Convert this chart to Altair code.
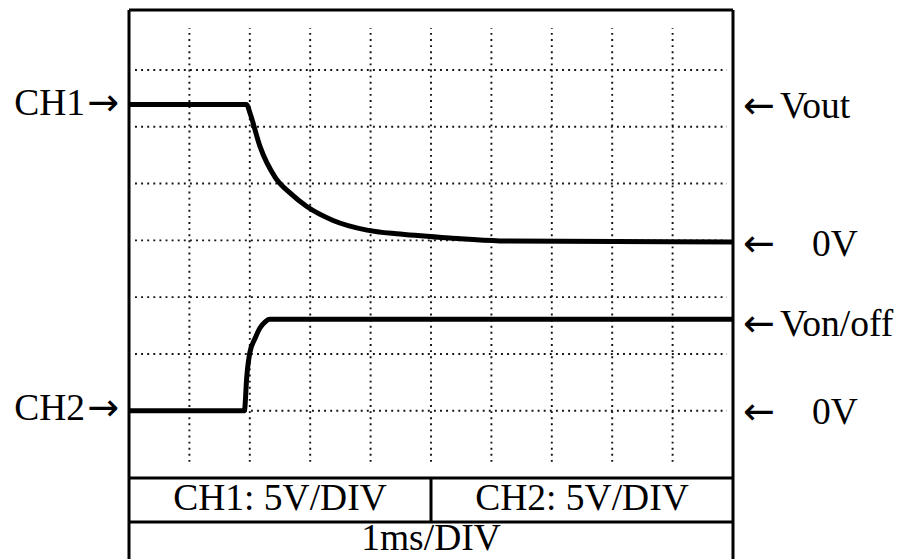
import altair as alt
import pandas as pd

# ---- trace data (time in ms, voltage in V) ----
ch1_t = [0, 1.95, 2.0, 2.17, 2.42, 2.67, 2.95, 3.38, 3.94, 4.49, 5.31, 6.14, 10]
ch1_v = [12.1, 12.1, 11.4, 8.4, 5.7, 4.3, 3.1, 1.9, 1.05, 0.7, 0.35, 0.1, 0]

ch2_t = [0, 1.91, 1.95, 2.0, 2.09, 2.17, 2.25, 2.33, 10]
ch2_v = [0, 0, 3.0, 5.1, 6.4, 7.3, 7.8, 8.05, 8.05]

VOLTS_PER_DIV = 5
ch1_zero_div = 3.97   # screen division where CH1 0V sits
ch2_zero_div = 1.0    # screen division where CH2 0V sits

# graticule
time_divs = [1, 2, 3, 4, 5, 6, 7, 8, 9]
volt_divs = [1, 2, 3, 4, 5, 6, 7]

# labels
left_labels = ["CH1", "CH2"]
left_label_y = [6.40, 1.03]
right_labels = ["Vout", "0V", "Von/off", "0V"]
right_label_y = [6.34, 3.92, 2.51, 0.96]
right_label_px = [651, 683, 651, 683]   # left edge of each label, px from plot's left

table_texts = ["CH1: 5V/DIV", "CH2: 5V/DIV", "1ms/DIV"]
table_text_x = [2.5, 7.5, 5.0]
table_text_y = [-0.555, -0.555, -1.26]

# screen frame (x, x2, y, y2) in (ms, divisions)
TOP = 8.055
BOTTOM = -1.61
ROW1 = -0.185
ROW2 = -0.96
frame = pd.DataFrame({
    "x":  [0, 0, 10, 0, 0, 5],
    "x2": [10, 0, 10, 10, 10, 5],
    "y":  [TOP, TOP, TOP, ROW1, ROW2, ROW1],
    "y2": [TOP, BOTTOM, BOTTOM, ROW1, ROW2, ROW2],
})

traces = pd.concat([
    pd.DataFrame({"t": ch1_t, "V": ch1_v, "ch": "CH1",
                  "y": [ch1_zero_div + v / VOLTS_PER_DIV for v in ch1_v]}),
    pd.DataFrame({"t": ch2_t, "V": ch2_v, "ch": "CH2",
                  "y": [ch2_zero_div + v / VOLTS_PER_DIV for v in ch2_v]}),
])

xs = alt.Scale(domain=[0, 10], nice=False, zero=False)
ys = alt.Scale(domain=[BOTTOM, TOP], nice=False, zero=False)

FONT = "Liberation Serif"
ARROW_FONT = "DejaVu Sans"
FS = 37.5
GRID = dict(color="#111111", strokeWidth=1.9, strokeDash=[1.9, 4.2])

vgrid = alt.Chart(pd.DataFrame({"t": time_divs, "y": 0.1, "y2": 7.74})).mark_rule(**GRID).encode(
    x=alt.X("t:Q", scale=xs, axis=None),
    y=alt.Y("y:Q", scale=ys, axis=None),
    y2="y2:Q",
)
hgrid = alt.Chart(pd.DataFrame({"v": volt_divs, "x": 0.1, "x2": 9.9})).mark_rule(**GRID).encode(
    y=alt.Y("v:Q", scale=ys, axis=None),
    x=alt.X("x:Q", scale=xs, axis=None),
    x2="x2:Q",
)

lines = alt.Chart(traces).mark_line(color="black", strokeWidth=5, interpolate="monotone").encode(
    x=alt.X("t:Q", scale=xs, axis=None),
    y=alt.Y("y:Q", scale=ys, axis=None),
    detail="ch:N",
)

frame_rules = alt.Chart(frame).mark_rule(color="black", strokeWidth=3).encode(
    x=alt.X("x:Q", scale=xs, axis=None),
    x2="x2:Q",
    y=alt.Y("y:Q", scale=ys, axis=None),
    y2="y2:Q",
)

left_df = pd.DataFrame({"label": left_labels, "y": left_label_y})
left = alt.Chart(left_df).mark_text(
    font=FONT, fontSize=FS, align="right", baseline="middle", color="black"
).encode(x=alt.value(-44), y=alt.Y("y:Q", scale=ys, axis=None), text="label:N")
left_arrows = alt.Chart(left_df).mark_text(
    font=ARROW_FONT, fontSize=38, align="right", baseline="middle", color="black", text="\u2192"
).encode(x=alt.value(-10), y=alt.Y("y:Q", scale=ys, axis=None))

right_df = pd.DataFrame({"label": right_labels, "y": right_label_y, "px": right_label_px})
right = alt.Chart(right_df).mark_text(
    font=FONT, fontSize=FS, align="left", baseline="middle", color="black"
).encode(x=alt.X("px:Q", scale=None), y=alt.Y("y:Q", scale=ys, axis=None), text="label:N")
right_arrows = alt.Chart(right_df).mark_text(
    font=ARROW_FONT, fontSize=38, align="left", baseline="middle", color="black", text="\u2190"
).encode(x=alt.value(614), y=alt.Y("y:Q", scale=ys, axis=None))

table = alt.Chart(pd.DataFrame({"label": table_texts, "x": table_text_x, "y": table_text_y})).mark_text(
    font=FONT, fontSize=FS, align="center", baseline="middle", color="black"
).encode(
    x=alt.X("x:Q", scale=xs, axis=None),
    y=alt.Y("y:Q", scale=ys, axis=None),
    text="label:N",
)

chart = alt.layer(hgrid, vgrid, lines, frame_rules, left, left_arrows, right, right_arrows, table).properties(
    width=604,
    height=549,
    padding={"left": 121, "top": 2, "right": 166, "bottom": 0},
    autosize=alt.AutoSizeParams(type="none"),
).configure_view(stroke=None)

chart.save("out.html", embed_options={"renderer": "svg", "actions": False})
